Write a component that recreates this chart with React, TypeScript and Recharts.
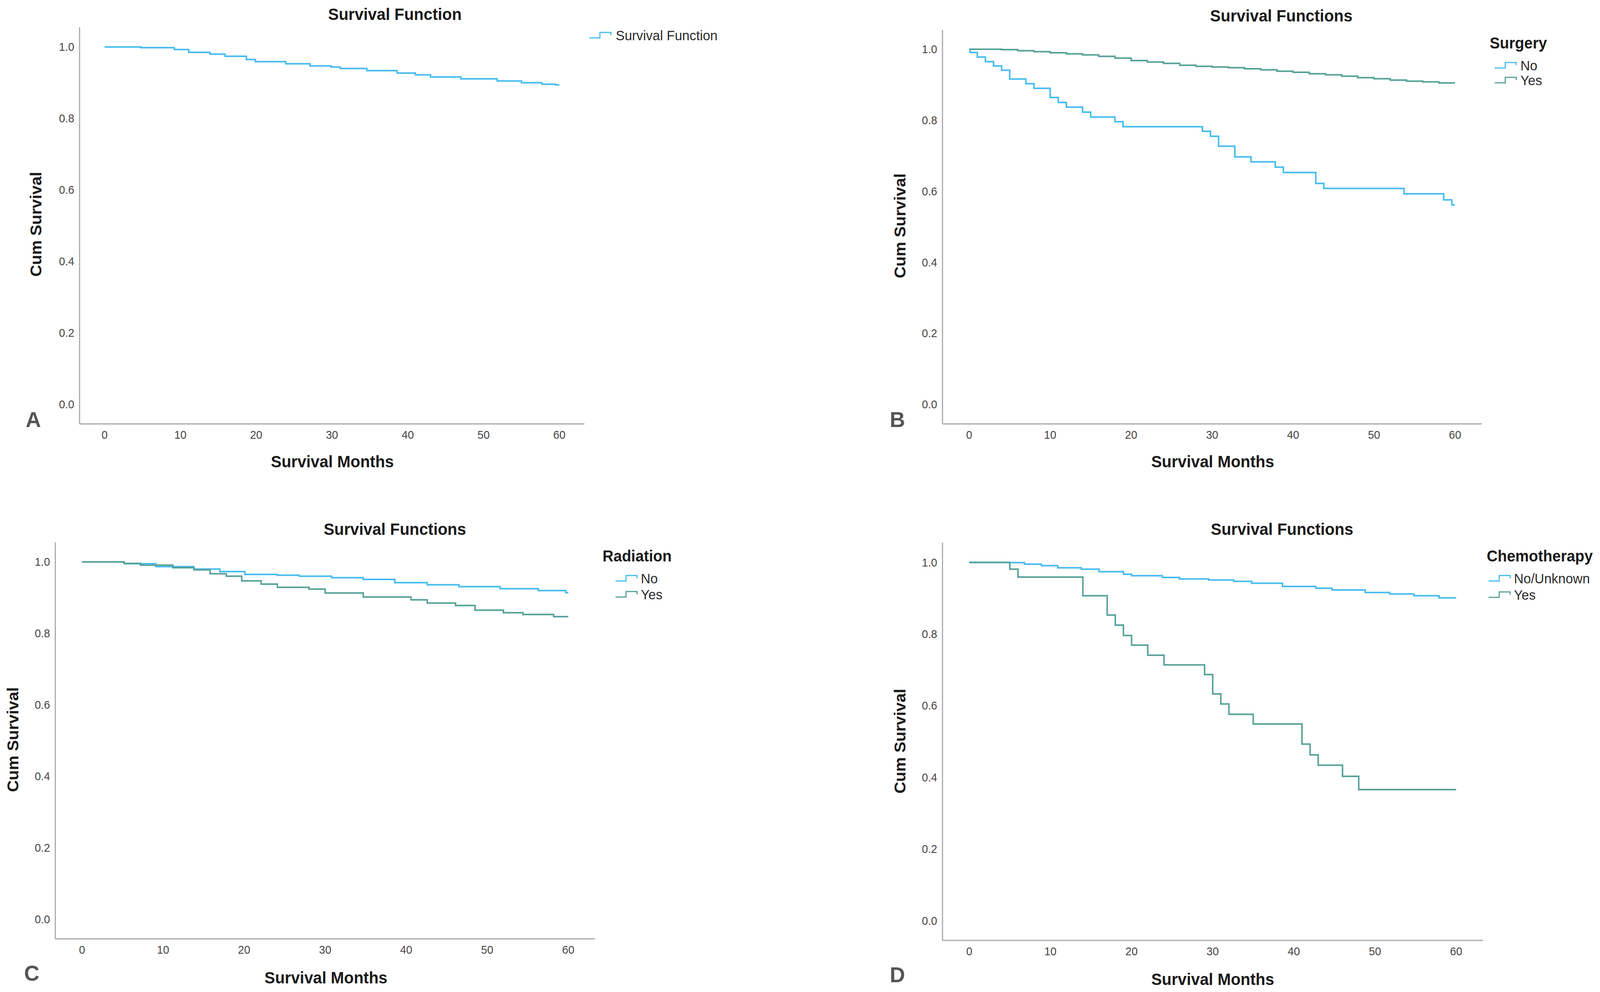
import React from 'react';
import { LineChart, Line, XAxis, YAxis } from 'recharts';

const FONT = "'Liberation Sans', Arial, Helvetica, sans-serif";
const BLUE = '#45bcf0';
const TEAL = '#56a199';
const AXIS = '#a8a8a8';

// the screenshot comes out 4096 px wide, so the 4222 px layout is squeezed to fit
const FIT_X = 4096 / 4222;

const xTicks = [0, 10, 20, 30, 40, 50, 60];
const yTicks = [0, 0.2, 0.4, 0.6, 0.8, 1.0];

// A: whole cohort
const allMonths = [0, 4.8, 9.2, 11.1, 13.9, 15.9, 18.7, 19.9, 23.9, 27.1, 29.9, 31.1, 34.6, 38.6, 41, 43, 47, 51.8, 55, 57.7, 59.5, 60];
const allSurv = [1.0, 0.998, 0.993, 0.985, 0.98, 0.974, 0.965, 0.959, 0.953, 0.947, 0.944, 0.94, 0.934, 0.927, 0.922, 0.916, 0.911, 0.905, 0.9, 0.896, 0.894, 0.894];

// B: surgery
const surgNoMonths = [0, 0.1, 1, 2, 3, 4, 5, 7, 8, 10, 11, 12, 14, 15, 18, 19, 28.8, 29.8, 30.8, 32.8, 34.8, 37.8, 38.8, 42.8, 43.8, 53.7, 58.6, 59.6, 60];
const surgNoSurv = [1.0, 0.991, 0.978, 0.965, 0.953, 0.941, 0.916, 0.903, 0.89, 0.864, 0.85, 0.837, 0.823, 0.809, 0.796, 0.782, 0.769, 0.755, 0.727, 0.697, 0.683, 0.668, 0.653, 0.622, 0.608, 0.593, 0.576, 0.562, 0.562];
const surgYesMonths = [0, 4, 6, 8, 10, 12, 14, 16, 18, 20, 22, 24, 26, 28, 30, 32, 34, 36, 38, 40, 42, 44, 46, 48, 50, 52, 54, 56, 58, 60];
const surgYesSurv = [1.0, 0.999, 0.996, 0.993, 0.99, 0.987, 0.984, 0.98, 0.975, 0.968, 0.964, 0.96, 0.955, 0.952, 0.95, 0.948, 0.945, 0.942, 0.938, 0.935, 0.931, 0.928, 0.924, 0.92, 0.917, 0.913, 0.91, 0.908, 0.905, 0.905];

// C: radiation
const radNoMonths = [0, 5.2, 9.1, 13.8, 17, 20.1, 24.1, 26.8, 30.8, 34.7, 38.6, 42.6, 46.5, 51.6, 56.3, 59.7, 60];
const radNoSurv = [1.0, 0.995, 0.987, 0.98, 0.973, 0.965, 0.963, 0.96, 0.956, 0.951, 0.942, 0.936, 0.931, 0.925, 0.92, 0.914, 0.914];
const radYesMonths = [0, 5.2, 7.2, 11.2, 13.8, 15.8, 17.8, 19.7, 22.1, 24.1, 28, 30, 34.7, 40.6, 42.6, 46.1, 48.5, 52, 54.4, 58.2, 60];
const radYesSurv = [1.0, 0.996, 0.991, 0.984, 0.978, 0.967, 0.96, 0.947, 0.938, 0.929, 0.924, 0.913, 0.902, 0.894, 0.885, 0.878, 0.865, 0.858, 0.853, 0.847, 0.847];

// D: chemotherapy
const chemoNoMonths = [0, 4.8, 6.8, 8.9, 10.9, 13.8, 16, 19, 20, 23.8, 25.9, 29.5, 32.6, 34.8, 38.6, 42.7, 44.7, 48.8, 51.8, 54.8, 57.9, 60];
const chemoNoSurv = [1.0, 0.9995, 0.995, 0.991, 0.985, 0.981, 0.974, 0.967, 0.963, 0.958, 0.954, 0.951, 0.947, 0.942, 0.933, 0.928, 0.923, 0.916, 0.912, 0.907, 0.901, 0.901];
const chemoYesMonths = [0, 5, 6, 14, 17, 18, 19, 20, 22, 24, 29, 30, 31, 32, 35, 41, 42, 43, 46, 48, 60];
const chemoYesSurv = [1.0, 0.981, 0.959, 0.907, 0.853, 0.825, 0.796, 0.769, 0.741, 0.714, 0.687, 0.633, 0.605, 0.576, 0.549, 0.493, 0.463, 0.434, 0.403, 0.366, 0.366];

const zip = (m: number[], s: number[]) => m.map((t, i) => ({ t, s: s[i] }));

type Pt = [number, number];
type Series = { name: string; color: string; data: { t: number; s: number }[] };
type PanelDef = {
  x: number; y: number; w: number; h: number;
  plot: { left: number; right: number; top: number; bottom: number };
  title: string; titlePos: Pt;
  letter: string; letterPos: Pt;
  xLabelPos: Pt; yLabelPos: Pt;
  legendTitle?: string; legendTitlePos?: Pt;
  iconX: number; textX: number; rows: number[];
  series: Series[];
};

const panels: PanelDef[] = [
  {
    x: 0, y: 0, w: 2111, h: 1270,
    plot: { left: 210, right: 1542, top: 70, bottom: 1085 },
    title: 'Survival Function', titlePos: [1042, 37],
    letter: 'A', letterPos: [88, 1074],
    xLabelPos: [877, 1182], yLabelPos: [95, 574],
    iconX: 1555, textX: 1625, rows: [90],
    series: [{ name: 'Survival Function', color: BLUE, data: zip(allMonths, allSurv) }],
  },
  {
    x: 2111, y: 0, w: 2111, h: 1270,
    plot: { left: 376, right: 1799, top: 76, bottom: 1085 },
    title: 'Survival Functions', titlePos: [1270, 41],
    letter: 'B', letterPos: [257, 1074],
    xLabelPos: [1089, 1182], yLabelPos: [264, 578],
    legendTitle: 'Surgery', legendTitlePos: [1820, 110],
    iconX: 1833, textX: 1901, rows: [167, 205],
    series: [
      { name: 'No', color: BLUE, data: zip(surgNoMonths, surgNoSurv) },
      { name: 'Yes', color: TEAL, data: zip(surgYesMonths, surgYesSurv) },
    ],
  },
  {
    x: 0, y: 1270, w: 2111, h: 1269,
    plot: { left: 146, right: 1570, top: 118, bottom: 1133 },
    title: 'Survival Functions', titlePos: [1042, 85],
    letter: 'C', letterPos: [84, 1221],
    xLabelPos: [860, 1233], yLabelPos: [34, 623],
    legendTitle: 'Radiation', legendTitlePos: [1590, 153],
    iconX: 1624, textX: 1691, rows: [210, 251],
    series: [
      { name: 'No', color: BLUE, data: zip(radNoMonths, radNoSurv) },
      { name: 'Yes', color: TEAL, data: zip(radYesMonths, radYesSurv) },
    ],
  },
  {
    x: 2111, y: 1270, w: 2111, h: 1269,
    plot: { left: 376, right: 1802, top: 119, bottom: 1137 },
    title: 'Survival Functions', titlePos: [1272, 85],
    letter: 'D', letterPos: [257, 1225],
    xLabelPos: [1089, 1237], yLabelPos: [264, 627],
    legendTitle: 'Chemotherapy', legendTitlePos: [1812, 153],
    iconX: 1817, textX: 1884, rows: [210, 252],
    series: [
      { name: 'No/Unknown', color: BLUE, data: zip(chemoNoMonths, chemoNoSurv) },
      { name: 'Yes', color: TEAL, data: zip(chemoYesMonths, chemoYesSurv) },
    ],
  },
];

const centered = (p: Pt, extra: React.CSSProperties = {}, rotate = false): React.CSSProperties => ({
  position: 'absolute',
  left: p[0],
  top: p[1],
  transform: `translate(-50%, -50%)${rotate ? ' rotate(-90deg)' : ''}`,
  whiteSpace: 'nowrap',
  lineHeight: 1,
  fontFamily: FONT,
  ...extra,
});

const XTick = (props: any) => (
  <text x={props.x} y={props.y + 28} textAnchor="middle" dominantBaseline="central"
    fontFamily={FONT} fontSize={29} fill="#444">
    {props.payload.value}
  </text>
);

const YTick = (props: any) => (
  <text x={props.x - 14} y={props.y} textAnchor="end" dominantBaseline="central"
    fontFamily={FONT} fontSize={29} fill="#444">
    {Number(props.payload.value).toFixed(1)}
  </text>
);

const StepIcon = ({ color }: { color: string }) => (
  <svg width={60} height={20} style={{ display: 'block' }}>
    <path d="M0 17 H28 V3 H57 V10" fill="none" stroke={color} strokeWidth={3} />
  </svg>
);

const Panel = ({ p }: { p: PanelDef }) => {
  const xAxisH = 60;
  return (
    <div style={{ position: 'absolute', left: p.x, top: p.y, width: p.w, height: p.h }}>
      <LineChart
        width={p.w}
        height={p.h}
        margin={{ top: p.plot.top, right: p.w - p.plot.right, bottom: p.h - p.plot.bottom - xAxisH, left: 20 }}
      >
        <XAxis type="number" dataKey="t" domain={[-3.3, 63.3]} allowDataOverflow ticks={xTicks} interval={0}
          height={xAxisH} tickLine={false} tickSize={0} tickMargin={0}
          axisLine={{ stroke: AXIS, strokeWidth: 3 }} tick={XTick} />
        <YAxis type="number" domain={[-0.055, 1.055]} allowDataOverflow ticks={yTicks} interval={0}
          width={p.plot.left - 20} tickLine={false} tickSize={0} tickMargin={0}
          axisLine={{ stroke: AXIS, strokeWidth: 3 }} tick={YTick} />
        {p.series.map((s) => (
          <Line key={s.name} data={s.data} dataKey="s" name={s.name} type="stepAfter"
            stroke={s.color} strokeWidth={4} dot={false} activeDot={false} isAnimationActive={false} />
        ))}
      </LineChart>

      <div style={centered(p.titlePos, { fontSize: 42, fontWeight: 'bold', color: '#1a1a1a' })}>{p.title}</div>
      <div style={centered(p.xLabelPos, { fontSize: 42, fontWeight: 'bold', color: '#1a1a1a' })}>Survival Months</div>
      <div style={centered(p.yLabelPos, { fontSize: 42, fontWeight: 'bold', color: '#1a1a1a' }, true)}>Cum Survival</div>
      <div style={centered(p.letterPos, { fontSize: 56, fontWeight: 'bold', color: '#555' })}>{p.letter}</div>

      {p.legendTitle && p.legendTitlePos && (
        <div style={{
          position: 'absolute', left: p.legendTitlePos[0], top: p.legendTitlePos[1], transform: 'translateY(-50%)',
          fontFamily: FONT, fontSize: 40, fontWeight: 'bold', lineHeight: 1, whiteSpace: 'nowrap', color: '#1a1a1a',
        }}>{p.legendTitle}</div>
      )}
      {p.series.map((s, i) => (
        <React.Fragment key={s.name}>
          <div style={{ position: 'absolute', left: p.iconX, top: p.rows[i] - 10 }}>
            <StepIcon color={s.color} />
          </div>
          <div style={{
            position: 'absolute', left: p.textX, top: p.rows[i], transform: 'translateY(-50%)',
            fontFamily: FONT, fontSize: 35, lineHeight: 1, whiteSpace: 'nowrap', color: '#2a2a2a',
          }}>{s.name}</div>
        </React.Fragment>
      ))}
    </div>
  );
};

export default function App() {
  return (
    <div style={{ position: 'absolute', left: 0, top: 0, width: 4096, height: 2539, background: '#fff', overflow: 'hidden' }}>
      <div style={{ position: 'absolute', left: 0, top: 0, width: 4222, height: 2539, transform: `scaleX(${FIT_X})`, transformOrigin: '0 0' }}>
        {panels.map((p) => <Panel key={p.letter} p={p} />)}
      </div>
    </div>
  );
}
